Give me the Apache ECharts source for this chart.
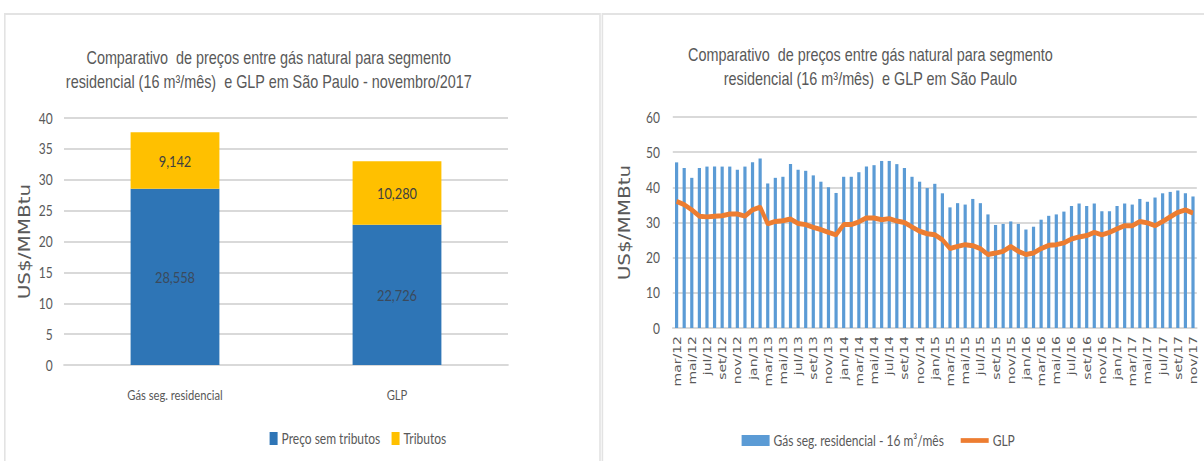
<!DOCTYPE html>
<html>
<head>
    <meta charset="utf-8">
    <title></title>
    <script src="https://cdn.jsdelivr.net/npm/echarts@6.0.0/dist/echarts.min.js"></script>
</head>
<body style="margin:0;background:#fff;overflow:hidden;">
<!-- a imagem original e estreita (texto comprimido na horizontal): desenha em 1505px e comprime para 1204px -->
<div id="main" style="width:1505px;height:461px;transform:scaleX(0.8);transform-origin:0 0;"></div>
<script type="text/javascript">
    // grafico da esquerda (novembro/2017)
    var cats = ["Gás seg. residencial", "GLP"];
    var semTributos = [28.558, 22.726];
    var tributos = [9.142, 10.280];

    // grafico da direita (mensal mar/12 - nov/17)
    var mesesNome = ["jan","fev","mar","abr","mai","jun","jul","ago","set","out","nov","dez"];
    var meses = [];
    for (var a = 12; a <= 17; a++) {
        for (var m = 0; m < 12; m++) {
            if (a == 12 && m < 2) continue;
            if (a == 17 && m > 10) continue;
            meses.push(mesesNome[m] + "/" + a);
        }
    }
    var gasRes = [47.1,45.5,42.7,45.5,45.9,45.9,45.9,45.9,45.0,45.9,
        47.1,48.2,41.1,42.7,43.0,46.6,45.0,44.7,43.4,41.6,
        40.0,38.4,43.0,43.0,44.3,45.9,46.3,47.5,47.5,46.6,
        45.5,43.0,41.6,39.8,41.0,38.3,34.3,35.5,35.1,36.7,
        35.5,32.3,29.3,29.6,30.3,29.6,28.0,28.8,30.8,31.9,
        32.3,33.1,34.7,35.4,34.7,35.4,33.2,33.2,34.7,35.4,
        35.1,36.7,35.9,37.1,38.3,38.7,39.1,38.3,37.4];
    var glp = [36.0,35.1,33.6,31.8,31.6,31.8,31.9,32.4,32.4,31.8,
        33.6,34.4,29.6,30.3,30.5,31.0,29.7,29.4,28.6,28.0,
        27.2,26.5,29.4,29.4,30.2,31.3,31.3,30.8,31.1,30.4,
        30.0,28.7,27.5,26.8,26.5,25.1,22.6,23.2,23.7,23.4,
        22.6,20.9,21.3,21.8,23.2,21.8,20.9,21.3,22.6,23.5,
        23.7,24.2,25.3,25.9,26.3,27.2,26.5,27.2,28.2,29.1,
        29.1,30.3,29.9,29.1,30.3,31.6,32.9,33.6,32.7];

    var fonte = "Lato, sans-serif";
    var cinza = "#595959";
    var fmt = function (p) { return p.value.toFixed(3).replace(".", ","); };

    var myChart = echarts.init(document.getElementById('main'), null, { renderer: 'svg' });
    myChart.setOption({
        animation: false,
        graphic: [
            { type: 'rect', shape: { x: 6, y: 14, width: 744, height: 460 }, style: { fill: 'none', stroke: '#e3e3e3', lineWidth: 2 } },
            { type: 'rect', shape: { x: 753, y: 14, width: 770, height: 460 }, style: { fill: 'none', stroke: '#e3e3e3', lineWidth: 2 } }
        ],
        title: [
            {
                text: 'Comparativo  de preços entre gás natural para segmento\nresidencial (16 m³/mês)  e GLP em São Paulo - novembro/2017',
                left: 331, top: 40, textAlign: 'center',
                textStyle: { fontFamily: 'Liberation Sans', fontSize: 18, fontWeight: 'normal', color: cinza, lineHeight: 24 }
            },
            {
                text: 'Comparativo  de preços entre gás natural para segmento\nresidencial (16 m³/mês)  e GLP em São Paulo',
                left: 1083, top: 37, textAlign: 'center',
                textStyle: { fontFamily: 'Liberation Sans', fontSize: 18, fontWeight: 'normal', color: cinza, lineHeight: 24 }
            }
        ],
        legend: [
            {
                data: ['Preço sem tributos', 'Tributos'],
                left: 332, top: 426, textAlign: 'center',
                icon: 'rect', itemWidth: 10, itemHeight: 13, itemGap: 14,
                textStyle: { fontFamily: fonte, fontSize: 15, color: cinza }
            },
            {
                data: [
                    { name: 'Gás seg. residencial - 16 m³/mês', icon: 'rect' },
                    { name: 'GLP', icon: 'path://M0,0 L37,0 L37,5 L0,5 Z' }
                ],
                left: 922, top: 428,
                itemWidth: 35, itemHeight: 11, itemGap: 21,
                textStyle: { fontFamily: fonte, fontSize: 15, color: cinza }
            }
        ],
        grid: [
            { left: 80, right: 870, top: 118, bottom: 96 },
            { left: 841, right: 9, top: 117, bottom: 133 }
        ],
        xAxis: [
            {
                gridIndex: 0, type: 'category', data: cats,
                axisLine: { lineStyle: { color: '#d9d9d9', width: 2 } },
                axisTick: { show: false },
                axisLabel: { fontFamily: fonte, fontSize: 14, color: cinza, margin: 22 }
            },
            {
                gridIndex: 1, type: 'category', data: meses,
                axisLine: { lineStyle: { color: '#d9d9d9', width: 2 } },
                axisTick: { show: false },
                axisLabel: { rotate: 90, interval: 1, fontFamily: 'DejaVu Sans', fontSize: 14, color: cinza, margin: 8 }
            }
        ],
        yAxis: [
            {
                gridIndex: 0, type: 'value', min: 0, max: 40, interval: 5,
                name: 'US$/MMBtu', nameLocation: 'middle', nameGap: 40,
                nameTextStyle: { fontFamily: 'DejaVu Sans', fontSize: 20, color: cinza },
                axisLine: { show: false }, axisTick: { show: false },
                axisLabel: { fontFamily: fonte, fontSize: 15, color: cinza, margin: 14 },
                splitLine: { lineStyle: { color: '#d9d9d9', width: 2 } }
            },
            {
                gridIndex: 1, type: 'value', min: 0, max: 60, interval: 10,
                name: 'US$/MMBtu', nameLocation: 'middle', nameGap: 51,
                nameTextStyle: { fontFamily: 'DejaVu Sans', fontSize: 20, color: cinza },
                axisLine: { show: false }, axisTick: { show: false },
                axisLabel: { fontFamily: fonte, fontSize: 15, color: cinza, margin: 16 },
                splitLine: { lineStyle: { color: '#d9d9d9', width: 2 } }
            }
        ],
        series: [
            {
                name: 'Preço sem tributos', type: 'bar', stack: 'total', xAxisIndex: 0, yAxisIndex: 0,
                barWidth: '40%', data: semTributos,
                itemStyle: { color: '#2e75b6' },
                label: { show: true, position: 'inside', formatter: fmt, fontFamily: fonte, fontSize: 16, color: '#3b4a5c' }
            },
            {
                name: 'Tributos', type: 'bar', stack: 'total', xAxisIndex: 0, yAxisIndex: 0,
                barWidth: '40%', data: tributos,
                itemStyle: { color: '#ffc000' },
                label: { show: true, position: 'inside', formatter: fmt, fontFamily: fonte, fontSize: 16, color: '#404040' }
            },
            {
                name: 'Gás seg. residencial - 16 m³/mês', type: 'bar', xAxisIndex: 1, yAxisIndex: 1,
                barWidth: '42%', data: gasRes,
                itemStyle: { color: '#5b9bd5' }
            },
            {
                name: 'GLP', type: 'line', xAxisIndex: 1, yAxisIndex: 1,
                data: glp, symbol: 'none',
                lineStyle: { color: '#ed7d31', width: 5 },
                itemStyle: { color: '#ed7d31' }
            }
        ]
    });
</script>
</body>
</html>
